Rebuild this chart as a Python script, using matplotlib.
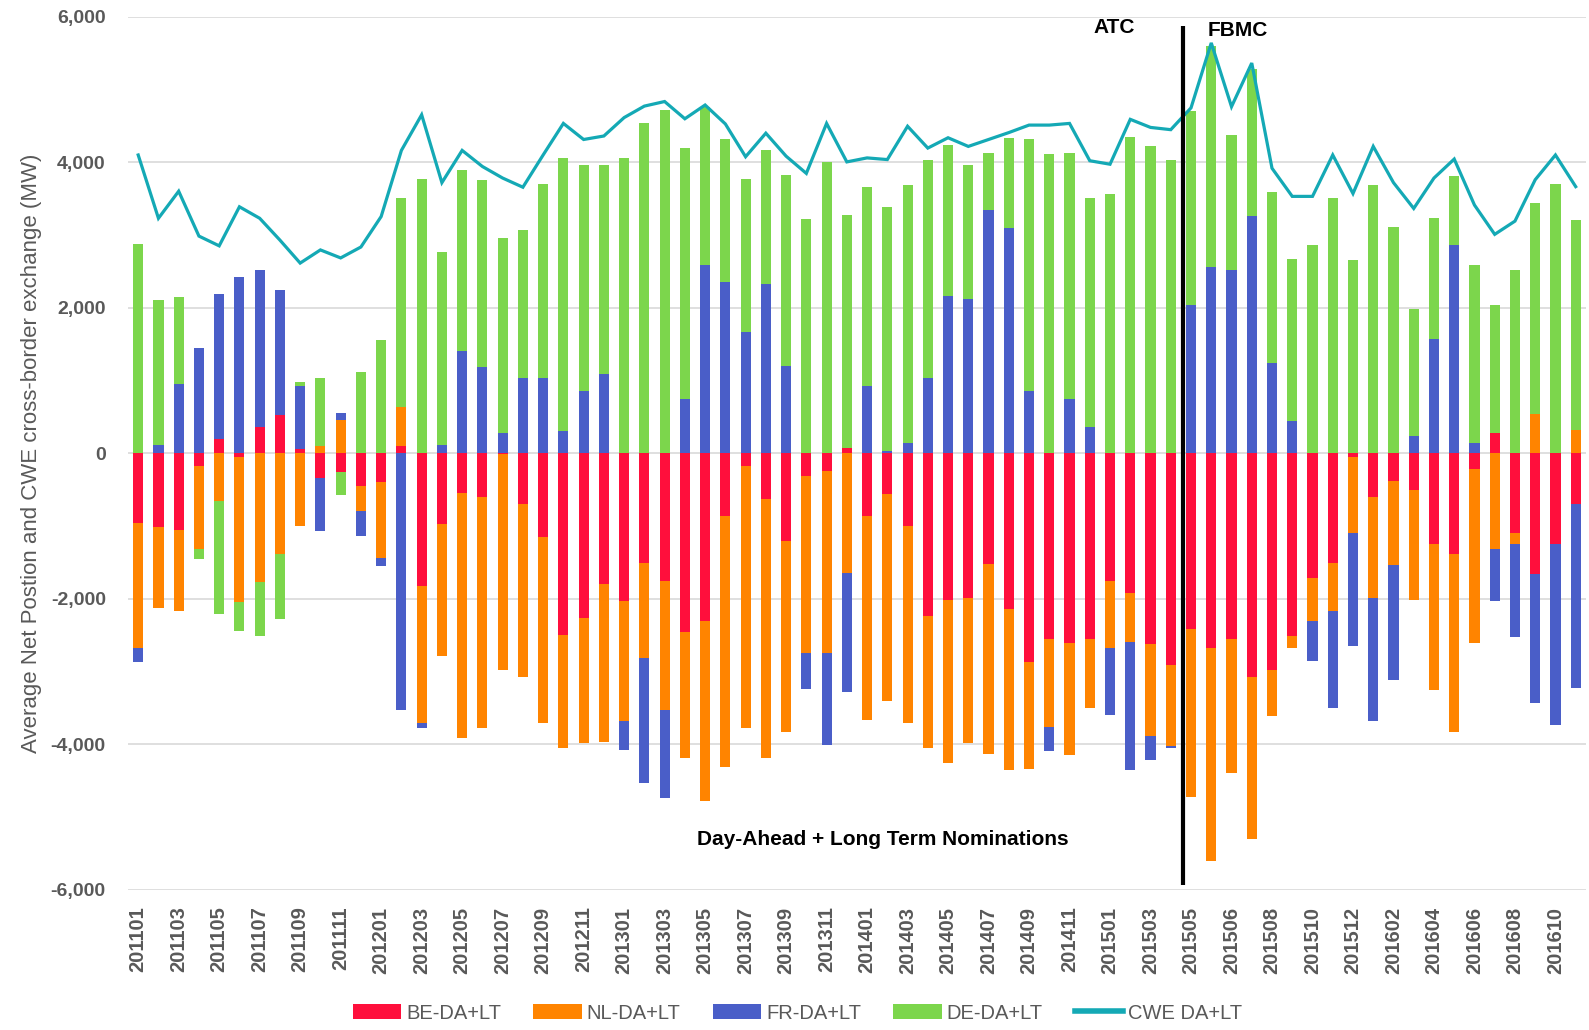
import matplotlib
matplotlib.use("Agg")
import matplotlib.pyplot as plt
import numpy as np
from matplotlib.lines import Line2D
from matplotlib.patches import Patch

plt.rcParams['font.family'] = ['Liberation Sans', 'DejaVu Sans']

categories = [
    "201101", "201102", "201103", "201104", "201105", "201106", "201107", "201108", "201109", "201110", "201111", "201112",
    "201201", "201202", "201203", "201204", "201205", "201206", "201207", "201208", "201209", "201210", "201211", "201212",
    "201301", "201302", "201303", "201304", "201305", "201306", "201307", "201308", "201309", "201310", "201311", "201312",
    "201401", "201402", "201403", "201404", "201405", "201406", "201407", "201408", "201409", "201410", "201411", "201412",
    "201501", "201502", "201503", "201504", "201505", "201505", "201506", "201507", "201508", "201509", "201510", "201511",
    "201512", "201601", "201602", "201603", "201604", "201605", "201606", "201607", "201608", "201609", "201610", "201611",
]

be = [-950, -1012, -1059, -166, 198, -47, 364, 522, 63, -332, -261, -451,
      -387, 103, -1826, -972, -538, -601, -10, -696, -1154, -2490, -2261, -1794,
      -2024, -1510, -1747, -2459, -2300, -854, -166, -632, -1202, -308, -245, 79,
      -854, -553, -996, -2229, -2008, -1984, -1526, -2134, -2862, -2553, -2609, -2553,
      -1747, -1913, -2624, -2909, -2419, -2672, -2553, -3067, -2980, -2514, -1707, -1510,
      -47, -601, -372, -506, -1241, -1383, -213, 285, -1091, -1652, -1249, -696]

nl = [-1720, -1107, -1107, -1154, -648, -2000, -1771, -1383, -996, 103, 466, -339,
      -1044, 529, -1874, -1811, -3375, -3178, -2962, -2371, -2553, -1557, -1723, -2166,
      -1660, -1304, -1779, -1731, -2483, -3454, -3613, -3558, -2624, -2435, -2498, -1644,
      -2806, -2854, -2711, -1818, -2253, -2000, -2600, -2222, -1470, -1202, -1533, -941,
      -925, -672, -1257, -1115, -2300, -2933, -1842, -2229, -633, -158, -601, -656,
      -1044, -1383, -1162, -1502, -2008, -2443, -2388, -1312, -158, 545, 0, 316]

fr = [-200, 120, 957, 1447, 2000, 2427, 2158, 1723, 870, -735, 95, -348,
      -118, -3526, -79, 119, 1415, 1186, 285, 1043, 1043, 308, 862, 1091,
      -395, -1716, -1217, 751, 2585, 2356, 1668, 2332, 1209, -498, -1265, -1629,
      933, 40, 150, 1043, 2166, 2126, 3344, 3099, 862, -340, 751, 364,
      -917, -1771, -332, -31, 2047, 2561, 2522, 3265, 1241, 451, -546, -1336,
      -1557, -1700, -1581, 245, 1573, 2870, 150, -712, -1281, -1779, -2482, -2529]

de = [2885, 1985, 1193, -135, -1565, -396, -743, -886, 47, 940, -316, 1115,
      1557, 2878, 3779, 2656, 2482, 2569, 2671, 2024, 2664, 3755, 3106, 2877,
      4063, 4545, 4727, 3447, 2182, 1960, 2111, 1834, 2617, 3225, 4008, 3194,
      2735, 3351, 3542, 2997, 2071, 1842, 782, 1241, 3454, 4111, 3375, 3146,
      3573, 4356, 4221, 4040, 2664, 3044, 1857, 2023, 2356, 2229, 2862, 3510,
      2656, 3692, 3115, 1747, 1660, 940, 2435, 1754, 2522, 2894, 3707, 2893]

cwe = [4103, 3233, 3605, 2988, 2854, 3391, 3233, 2933, 2617, 2798, 2688, 2838,
       3257, 4166, 4656, 3723, 4166, 3945, 3786, 3660, 4103, 4537, 4316, 4364,
       4617, 4775, 4838, 4601, 4790, 4530, 4079, 4403, 4087, 3850, 4537, 4008,
       4063, 4040, 4498, 4198, 4340, 4221, 4316, 4411, 4514, 4514, 4537, 4024,
       3976, 4593, 4482, 4451, 4751, 5644, 4767, 5367, 3921, 3534, 3534, 4103,
       3573, 4221, 3723, 3368, 3786, 4047, 3415, 3012, 3194, 3763, 4103, 3668]

series_names = ["BE-DA+LT", "NL-DA+LT", "FR-DA+LT", "DE-DA+LT"]
line_name = "CWE DA+LT"
y_ticks = [-6000, -4000, -2000, 0, 2000, 4000, 6000]

colors = ["#FF0F3C", "#FF8400", "#4A5EC8", "#7CD64C"]
line_color = "#14A9B5"
grey = "#595959"

fig = plt.figure(figsize=(15.89, 10.30), dpi=100)
ax = fig.add_axes([0.0806, 0.136, 0.9174, 0.8475])

x = np.arange(len(categories))
pos_base = np.zeros(len(categories))
neg_base = np.zeros(len(categories))
for vals, col in zip([be, nl, fr, de], colors):
    v = np.array(vals, dtype=float)
    bottoms = np.where(v >= 0, pos_base, neg_base)
    ax.bar(x, v, bottom=bottoms, width=0.5, color=col, zorder=3)
    pos_base = pos_base + np.where(v > 0, v, 0)
    neg_base = neg_base + np.where(v < 0, v, 0)

ax.plot(x, cwe, color=line_color, lw=2.3, zorder=4, solid_joinstyle='miter')

ax.set_xlim(-0.5, len(categories) - 0.5)
ax.set_ylim(-6000, 6000)
ax.set_yticks(y_ticks)
ax.set_yticklabels([f"{t:,}" for t in y_ticks], fontsize=14, fontweight='bold', color=grey)
ax.yaxis.grid(True, color="#D9D9D9", lw=1.2, zorder=0)
ax.set_axisbelow(True)
ax.tick_params(axis='y', length=0, pad=16)
ax.set_xticks(x[::2])
ax.set_xticklabels(categories[::2], rotation=90, fontsize=14.5, fontweight='bold', color=grey)
ax.tick_params(axis='x', length=0, pad=12)
for s in ax.spines.values():
    s.set_visible(False)

ax.set_ylabel("Average Net Postion and CWE cross-border exchange (MW)", fontsize=16, color=grey, labelpad=6)

# ATC / FBMC separator
ax.plot([51.6, 51.6], [-5930, 5880], color="black", lw=3, zorder=5, solid_capstyle='butt')
ax.text(48.2, 5860, "ATC", fontsize=15, fontweight='bold', ha='center', va='center', color='black')
ax.text(54.3, 5810, "FBMC", fontsize=15, fontweight='bold', ha='center', va='center', color='black')
ax.text(36.8, -5310, "Day-Ahead + Long Term Nominations", fontsize=15, fontweight='bold',
        ha='center', va='center', color='black')

handles = [Patch(facecolor=c, edgecolor='none') for c in colors]
handles.append(Line2D([0], [0], color=line_color, lw=4))
leg = fig.legend(handles, series_names + [line_name], loc='center', bbox_to_anchor=(0.502, 0.0165),
                 ncol=5, frameon=False, fontsize=14.5, handlelength=2.4, handleheight=0.8,
                 handletextpad=0.25, columnspacing=1.6)
for t in leg.get_texts():
    t.set_color(grey)

fig.savefig("out.png", dpi=100)
